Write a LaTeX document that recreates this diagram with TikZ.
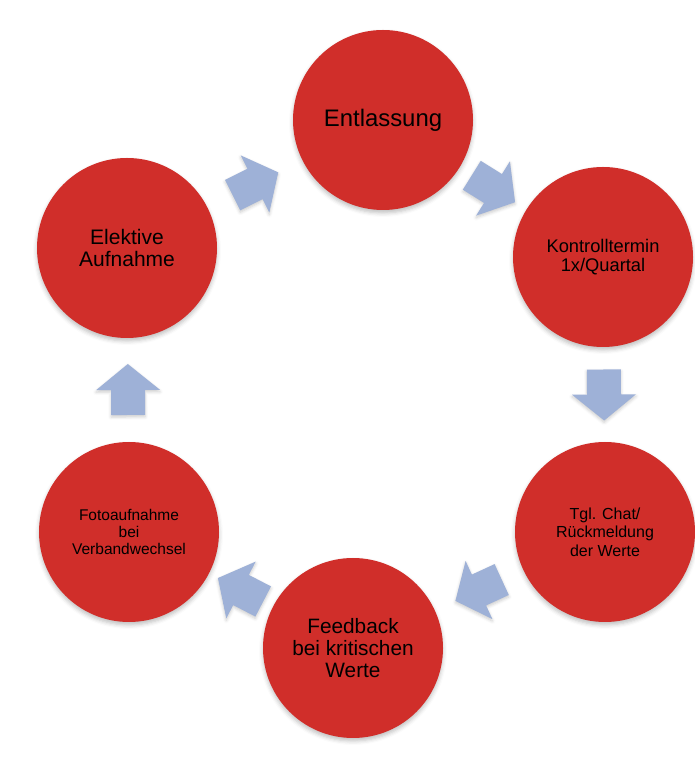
\documentclass[tikz,border=0pt]{standalone}
\usepackage{fontspec}
\setmainfont{Liberation Sans}
\usepackage{xcolor}
\usetikzlibrary{shadows.blur}
\definecolor{phasered}{RGB}{208, 46, 42}
\definecolor{flowblue}{RGB}{158, 177, 215}

% block arrow, pointing along +x, centred on the pic origin
\tikzset{
    cyclearrow/.pic={
        \fill[flowblue, blur shadow={shadow xshift=0pt, shadow yshift=-2pt, shadow blur radius=3pt, shadow opacity=20}]
            (-25pt,-17pt) -- (0pt,-17pt) -- (0pt,-32pt) -- (26pt,0pt)
            -- (0pt,32pt) -- (0pt,17pt) -- (-25pt,17pt) -- cycle;
    }
}

\begin{document}
\begin{tikzpicture}[
    x=1pt, y=1pt,
    phase/.style={circle, fill=phasered, minimum size=180pt, inner sep=0pt, align=center, text=black,
        blur shadow={shadow xshift=0pt, shadow yshift=-3pt, shadow blur radius=4pt, shadow opacity=25}},
    flow/.style={pos=.5, sloped, allow upside down}
]
    \useasboundingbox (0,0) rectangle (694,765);

    \node[phase, font=\fontsize{23.9}{27}\selectfont] (entlassung) at (383,645) {Entlassung};
    \node[phase, font=\fontsize{18.3}{19.3}\selectfont] (kontrolle) at (603,508) {Kontrolltermin\\1x/Quartal};
    \node[phase, font=\fontsize{16}{18.3}\selectfont] (chat) at (605,233) {Tgl. Chat/\\Rückmeldung\\der Werte};
    \node[phase, font=\fontsize{20.8}{22}\selectfont] (feedback) at (353,117) {Feedback\\bei kritischen\\Werte};
    \node[phase, font=\fontsize{15.5}{16.7}\selectfont] (foto) at (129,233) {Fotoaufnahme\\bei\\Verbandwechsel};
    \node[phase, font=\fontsize{21}{22}\selectfont] (aufnahme) at (127,517) {Elektive\\Aufnahme};

    \path (aufnahme) -- pic[flow] {cyclearrow} (entlassung);
    \path (entlassung) -- pic[flow] {cyclearrow} (kontrolle);
    \path (kontrolle) -- pic[flow] {cyclearrow} (chat);
    \path (chat) -- pic[flow] {cyclearrow} (feedback);
    \path (feedback) -- pic[flow] {cyclearrow} (foto);
    \path (foto) -- pic[flow] {cyclearrow} (aufnahme);
\end{tikzpicture}
\end{document}
